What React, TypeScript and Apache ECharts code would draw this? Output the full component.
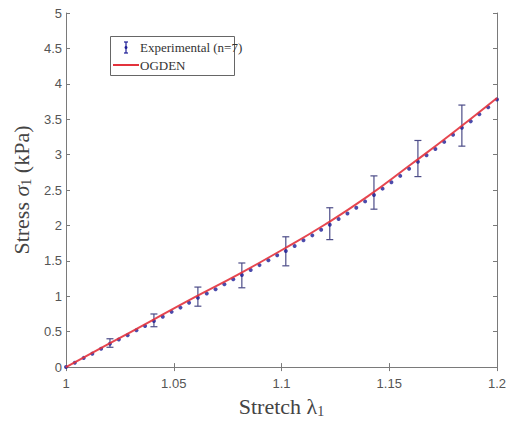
import React, { useEffect, useRef } from "react";
import * as echarts from "echarts";

// Experimental points (stretch λ1, stress σ1 in kPa)
const stretch = [
  1.0, 1.0041, 1.0082, 1.0122, 1.0163, 1.0204, 1.0245, 1.0286, 1.0327, 1.0367,
  1.0408, 1.0449, 1.049, 1.0531, 1.0571, 1.0612, 1.0653, 1.0694, 1.0735, 1.0776,
  1.0816, 1.0857, 1.0898, 1.0939, 1.098, 1.102, 1.1061, 1.1102, 1.1143, 1.1184,
  1.1224, 1.1265, 1.1306, 1.1347, 1.1388, 1.1429, 1.1469, 1.151, 1.1551, 1.1592,
  1.1633, 1.1673, 1.1714, 1.1755, 1.1796, 1.1837, 1.1878, 1.1918, 1.1959, 1.2,
];
const stress = [
  0.0, 0.06, 0.13, 0.19, 0.26, 0.33, 0.39, 0.45, 0.52, 0.58,
  0.65, 0.71, 0.78, 0.84, 0.91, 0.98, 1.04, 1.1, 1.17, 1.24,
  1.3, 1.37, 1.44, 1.51, 1.58, 1.64, 1.71, 1.79, 1.86, 1.94,
  2.01, 2.09, 2.17, 2.25, 2.34, 2.43, 2.52, 2.61, 2.7, 2.8,
  2.9, 2.99, 3.08, 3.18, 3.28, 3.38, 3.47, 3.57, 3.67, 3.78,
];

// Error bars (n=7)
const errStretch = [1.0204, 1.0408, 1.0612, 1.0816, 1.102, 1.1224, 1.1429, 1.1633, 1.1837];
const errLow = [0.28, 0.57, 0.86, 1.12, 1.43, 1.8, 2.23, 2.69, 3.12];
const errHigh = [0.4, 0.75, 1.13, 1.47, 1.84, 2.25, 2.7, 3.2, 3.7];

// OGDEN fit
const ogdenStretch = [1.0, 1.02, 1.04, 1.06, 1.08, 1.1, 1.12, 1.14, 1.16, 1.18, 1.2];
const ogdenStress = [0.0, 0.33, 0.66, 0.99, 1.31, 1.65, 2.01, 2.41, 2.86, 3.32, 3.8];

const xTicks = [1, 1.05, 1.1, 1.15, 1.2];
const yTicks = [0, 0.5, 1, 1.5, 2, 2.5, 3, 3.5, 4, 4.5, 5];

const SANS = "'Liberation Sans', Arial, sans-serif";
const SERIF = "'Liberation Serif', 'Times New Roman', serif";
const AXIS_COLOR = "#7a7a7a";
const DOT_COLOR = "#1e1e96";
const BAR_COLOR = "#4c4c88";
const RED = "#e3323c";

export default function App() {
  const ref = useRef<HTMLDivElement>(null);

  useEffect(() => {
    if (!ref.current) return;
    const chart = echarts.init(ref.current, undefined, { renderer: "svg" });

    const baseAxis = {
      axisLine: { show: true, lineStyle: { color: AXIS_COLOR, width: 1 } },
      axisTick: { show: true, inside: true, length: 4, lineStyle: { color: AXIS_COLOR } },
      splitLine: { show: false },
    };

    const option: any = {
      animation: false,
      backgroundColor: "#ffffff",
      grid: { left: 66, right: 13, top: 13, bottom: 48, containLabel: false },
      xAxis: [
        {
          type: "value",
          min: 1,
          max: 1.2,
          interval: 0.05,
          ...baseAxis,
          axisLabel: {
            color: "#555",
            fontFamily: SANS,
            fontSize: 13,
            margin: 10,
            formatter: (v: number) => {
              const t = xTicks.find((k) => Math.abs(k - v) < 1e-9);
              return t === undefined ? "" : String(t);
            },
          },
          name: "{a|Stretch }{g|λ}{s|1}",
          nameLocation: "middle",
          nameGap: 26,
          nameTextStyle: {
            rich: {
              a: { fontFamily: SERIF, fontSize: 22, color: "#444" },
              g: { fontFamily: SERIF, fontSize: 22, color: "#444" },
              s: { fontFamily: SERIF, fontSize: 14, color: "#444", verticalAlign: "bottom", padding: [10, 0, 0, 0] },
            },
          },
        },
        {
          type: "value",
          min: 1,
          max: 1.2,
          interval: 0.05,
          position: "top",
          ...baseAxis,
          axisLabel: { show: false },
        },
      ],
      yAxis: [
        {
          type: "value",
          min: 0,
          max: 5,
          interval: 0.5,
          ...baseAxis,
          axisLabel: {
            color: "#555",
            fontFamily: SANS,
            fontSize: 13,
            margin: 4,
            formatter: (v: number) => {
              const t = yTicks.find((k) => Math.abs(k - v) < 1e-9);
              return t === undefined ? "" : String(t);
            },
          },
          name: "{a|Stress }{g|σ}{s|1}{a| (kPa)}",
          nameLocation: "middle",
          nameGap: 30,
          nameRotate: 90,
          nameTextStyle: {
            rich: {
              a: { fontFamily: SERIF, fontSize: 22, color: "#444" },
              g: { fontFamily: SERIF, fontSize: 22, color: "#444", fontStyle: "italic" },
              s: { fontFamily: SERIF, fontSize: 14, color: "#444", verticalAlign: "bottom", padding: [10, 0, 0, 0] },
            },
          },
        },
        {
          type: "value",
          min: 0,
          max: 5,
          interval: 0.5,
          position: "right",
          ...baseAxis,
          axisLabel: { show: false },
        },
      ],
      series: [
        {
          name: "Experimental (n=7)",
          type: "custom",
          xAxisIndex: 0,
          yAxisIndex: 0,
          z: 3,
          data: errStretch.map((x, i) => [x, errLow[i], errHigh[i]]),
          renderItem: (params: any, api: any) => {
            const x = api.value(0);
            const lo = api.coord([x, api.value(1)]);
            const hi = api.coord([x, api.value(2)]);
            const w = 3.5;
            const style = { stroke: BAR_COLOR, lineWidth: 1.2 };
            return {
              type: "group",
              children: [
                { type: "line", shape: { x1: lo[0], y1: lo[1], x2: hi[0], y2: hi[1] }, style },
                { type: "line", shape: { x1: lo[0] - w, y1: lo[1], x2: lo[0] + w, y2: lo[1] }, style },
                { type: "line", shape: { x1: hi[0] - w, y1: hi[1], x2: hi[0] + w, y2: hi[1] }, style },
              ],
            };
          },
        },
        {
          name: "Experimental points",
          type: "scatter",
          z: 4,
          symbol: "circle",
          symbolSize: 4,
          itemStyle: { color: DOT_COLOR },
          data: stretch.map((x, i) => [x, stress[i]]),
        },
        {
          name: "OGDEN",
          type: "line",
          z: 5,
          smooth: true,
          showSymbol: false,
          symbol: "none",
          lineStyle: { color: RED, width: 2, opacity: 0.9 },
          data: ogdenStretch.map((x, i) => [x, ogdenStress[i]]),
        },
      ],
      graphic: [
        {
          type: "rect",
          shape: { x: 110.5, y: 36.5, width: 124, height: 39 },
          style: { fill: "#fff", stroke: "#666", lineWidth: 1 },
          z: 10,
        },
        { type: "line", shape: { x1: 126, y1: 42, x2: 126, y2: 53 }, style: { stroke: DOT_COLOR, lineWidth: 1.2 }, z: 11 },
        { type: "line", shape: { x1: 124, y1: 42, x2: 128, y2: 42 }, style: { stroke: DOT_COLOR, lineWidth: 1.2 }, z: 11 },
        { type: "line", shape: { x1: 124, y1: 53, x2: 128, y2: 53 }, style: { stroke: DOT_COLOR, lineWidth: 1.2 }, z: 11 },
        { type: "circle", shape: { cx: 126, cy: 47.5, r: 1.5 }, style: { fill: DOT_COLOR }, z: 11 },
        {
          type: "text",
          x: 140,
          y: 47.5,
          style: { text: "Experimental (n=7)", fontFamily: SERIF, fontSize: 13, fill: "#333", textVerticalAlign: "middle" },
          z: 11,
        },
        { type: "line", shape: { x1: 113, y1: 65, x2: 139, y2: 65 }, style: { stroke: RED, lineWidth: 2 }, z: 11 },
        {
          type: "text",
          x: 140,
          y: 65,
          style: { text: "OGDEN", fontFamily: SERIF, fontSize: 13, fill: "#333", textVerticalAlign: "middle" },
          z: 11,
        },
      ],
    };

    chart.setOption(option);
    return () => chart.dispose();
  }, []);

  return <div ref={ref} style={{ width: 510, height: 423, position: "absolute", left: 0, top: 0 }} />;
}
